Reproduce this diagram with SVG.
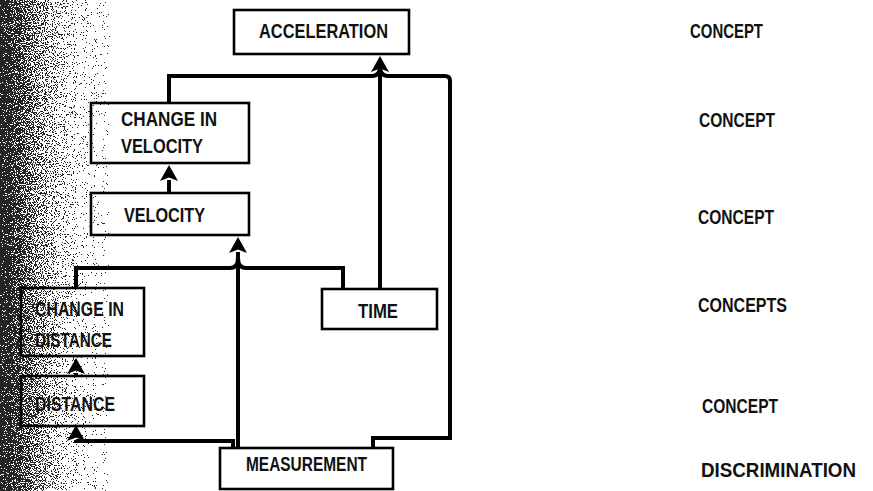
<svg xmlns="http://www.w3.org/2000/svg" width="873" height="491" viewBox="0 0 873 491">
  <defs>
    <style>
      .box { fill: none; stroke: #000; stroke-width: 2.6; }
      .t { font-family: "Liberation Sans Narrow", "Liberation Sans", Arial, sans-serif; font-weight: bold; font-size: 21px; fill: #111; }
      .c { fill: none; stroke: #000; stroke-width: 4; stroke-linejoin: miter; }
    </style>
    <marker id="ah" markerUnits="userSpaceOnUse" markerWidth="20" markerHeight="20" refX="1" refY="10" orient="auto" viewBox="0 0 20 20">
      <path d="M0,1 L16,10 L0,19 L3.5,10 z" fill="#000"/>
    </marker>
    <linearGradient id="shade" x1="0" y1="0" x2="1" y2="0">
      <stop offset="0" stop-color="#000" stop-opacity="0.92"/>
      <stop offset="0.12" stop-color="#000" stop-opacity="0.75"/>
      <stop offset="0.3" stop-color="#000" stop-opacity="0.5"/>
      <stop offset="0.5" stop-color="#000" stop-opacity="0.3"/>
      <stop offset="0.72" stop-color="#000" stop-opacity="0.12"/>
      <stop offset="1" stop-color="#000" stop-opacity="0"/>
    </linearGradient>
    <filter id="grain" x="0" y="0" width="1" height="1" color-interpolation-filters="sRGB">
      <feTurbulence type="fractalNoise" baseFrequency="0.9" numOctaves="2" seed="7" result="n"/>
      <feColorMatrix in="n" type="matrix" values="0 0 0 0 0  0 0 0 0 0  0 0 0 0 0  2.2 0 0 0 -0.6" result="na"/>
      <feComposite in="SourceGraphic" in2="na" operator="arithmetic" k1="0" k2="1" k3="1" k4="-0.5" result="s"/>
      <feComponentTransfer in="s">
        <feFuncA type="discrete" tableValues="0 1"/>
      </feComponentTransfer>
    </filter>
  </defs>
  <rect width="873" height="491" fill="#fff"/>
  <g id="shading">
    <rect x="0" y="0" width="110" height="491" fill="url(#shade)" filter="url(#grain)" opacity="0.85"/>
  </g>

  <g id="connectors">
    <path class="c" d="M238,448 V252" marker-end="url(#ah)"/>
    <path class="c" d="M76,288 V268 H230 Q238,268 238,258"/>
    <path class="c" d="M343,289 V268 H246 Q238,268 238,258"/>
    <path class="c" d="M169,193 V180" marker-end="url(#ah)"/>
    <path class="c" d="M76,376 V373" marker-end="url(#ah)"/>
    <path class="c" d="M233,448 V441 H76 V440" marker-end="url(#ah)"/>
    <path class="c" d="M380,289 V71" marker-end="url(#ah)"/>
    <path class="c" d="M169,103 V76 H372 Q380,76 380,66"/>
    <path class="c" d="M373,448 V438 H450 V81 Q450,76 445,76 H388 Q380,76 380,66"/>
  </g>

  <g id="acceleration">
    <rect class="box" x="234" y="10" width="175" height="44"/>
    <text class="t" x="259" y="38" textLength="129" lengthAdjust="spacingAndGlyphs">ACCELERATION</text>
  </g>
  <g id="change-in-velocity">
    <rect class="box" x="91" y="103" width="158" height="60"/>
    <text class="t" x="121" y="126" textLength="96" lengthAdjust="spacingAndGlyphs">CHANGE IN</text>
    <text class="t" x="121" y="153" textLength="82" lengthAdjust="spacingAndGlyphs">VELOCITY</text>
  </g>
  <g id="velocity">
    <rect class="box" x="91" y="193" width="158" height="42"/>
    <text class="t" x="124" y="222" textLength="81" lengthAdjust="spacingAndGlyphs">VELOCITY</text>
  </g>
  <g id="change-in-distance">
    <rect class="box" x="21" y="288" width="123" height="68"/>
    <text class="t" x="35" y="316" textLength="89" lengthAdjust="spacingAndGlyphs">CHANGE IN</text>
    <text class="t" x="35" y="347" textLength="77" lengthAdjust="spacingAndGlyphs">DISTANCE</text>
  </g>
  <g id="distance">
    <rect class="box" x="21" y="376" width="123" height="50"/>
    <text class="t" x="35" y="411" textLength="80" lengthAdjust="spacingAndGlyphs">DISTANCE</text>
  </g>
  <g id="time">
    <rect class="box" x="322" y="289" width="115" height="40"/>
    <text class="t" x="358" y="318" textLength="40" lengthAdjust="spacingAndGlyphs">TIME</text>
  </g>
  <g id="measurement">
    <rect class="box" x="220" y="448" width="173" height="41"/>
    <text class="t" x="246" y="471" textLength="121" lengthAdjust="spacingAndGlyphs">MEASUREMENT</text>
  </g>

  <g id="levels">
    <text class="t" x="690" y="38" textLength="73" lengthAdjust="spacingAndGlyphs">CONCEPT</text>
    <text class="t" x="699" y="127" textLength="76" lengthAdjust="spacingAndGlyphs">CONCEPT</text>
    <text class="t" x="698" y="224" textLength="76" lengthAdjust="spacingAndGlyphs">CONCEPT</text>
    <text class="t" x="698" y="312" textLength="89" lengthAdjust="spacingAndGlyphs">CONCEPTS</text>
    <text class="t" x="702" y="413" textLength="76" lengthAdjust="spacingAndGlyphs">CONCEPT</text>
    <text class="t" x="701" y="477" textLength="155" lengthAdjust="spacingAndGlyphs">DISCRIMINATION</text>
  </g>
</svg>
